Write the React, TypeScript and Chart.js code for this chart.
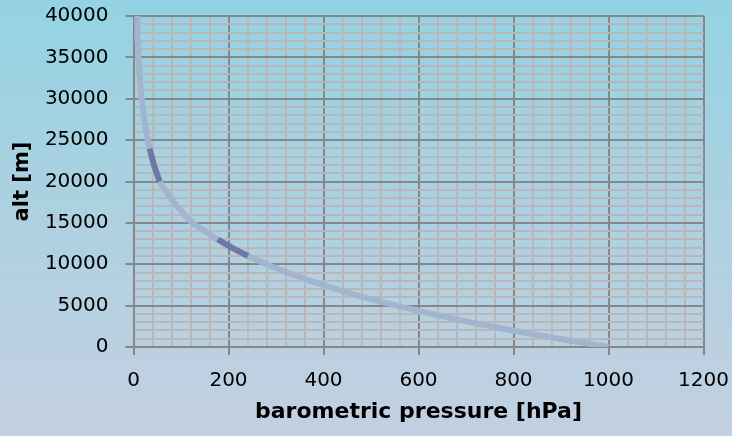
import { useEffect, useRef } from 'react';
import { Chart, registerables } from 'chart.js';

Chart.register(...registerables);

// altitude [m]
const altitudes = [
  0, 1000, 2000, 3000, 4000, 5000, 6000, 7000, 8000, 9000,
  10000, 11000, 12000, 13000, 14000, 15000, 16000, 17000, 18000, 19000,
  20000, 21000, 22000, 23000, 24000, 25000, 26000, 27000, 28000, 29000,
  30000, 31000, 32000, 33000, 34000, 35000, 36000, 37000, 38000, 39000, 40000,
];

// barometric pressure [hPa]
const pressures = [
  1000, 895, 798, 708, 627, 553, 486, 426, 372, 323,
  280, 241, 207, 177, 150, 124, 107, 92, 78, 66,
  55, 49, 43, 38.5, 34, 30, 27, 24, 21.5, 19.5,
  17.5, 15.8, 14.2, 12.8, 11.8, 11, 10.2, 9.4, 8.7, 8, 7.5,
];

const xTickLabels = [0, 200, 400, 600, 800, 1000, 1200];
const yTickLabels = [0, 5000, 10000, 15000, 20000, 25000, 30000, 35000, 40000];

// altitude bands where the darker line shows
const darkBands = [
  [20000, 24000],
  [11000, 13000],
];

const MAJOR = '#878787';
const MINOR = '#bab7b8';
const LIGHT_LINE = '#a2b5cf';
const DARK_LINE = '#6c78a5';
const FONT = '"DejaVu Sans", "Open Sans", sans-serif';

export default function App() {
  const ref = useRef<HTMLCanvasElement | null>(null);

  useEffect(() => {
    const canvas = ref.current;
    if (!canvas) return;
    const points = pressures.map((p, i) => ({ x: p, y: altitudes[i] }));
    const isMajorX = (v: number) => xTickLabels.some((t) => Math.abs(t - v) < 1e-6);
    const isMajorY = (v: number) => yTickLabels.some((t) => Math.abs(t - v) < 1e-6);

    const chart = new Chart(canvas, {
      type: 'scatter',
      data: {
        datasets: [
          {
            data: points,
            showLine: true,
            borderColor: LIGHT_LINE,
            borderWidth: 6,
            pointRadius: 0,
            pointHoverRadius: 0,
            tension: 0,
            borderJoinStyle: 'round',
            segment: {
              borderColor: (ctx: any) => {
                const y = ctx.p0.parsed.y;
                return darkBands.some(([a, b]) => y >= a && y < b) ? DARK_LINE : LIGHT_LINE;
              },
            },
          } as any,
        ],
      },
      options: {
        animation: false,
        responsive: false,
        devicePixelRatio: 1,
        layout: { padding: { top: 16, right: 28.5, left: 0, bottom: 0 } },
        plugins: { legend: { display: false }, tooltip: { enabled: false } },
        scales: {
          x: {
            type: 'linear',
            min: 0,
            max: 1200,
            afterFit: (scale: any) => {
              scale.height = 89;
              scale.paddingLeft = 0;
              scale.paddingRight = 0;
            },
            ticks: {
              stepSize: 40,
              autoSkip: false,
              maxRotation: 0,
              padding: 14,
              color: '#000',
              font: { family: FONT, size: 20 },
              callback: (v: any) => (isMajorX(Number(v)) ? String(v) : ''),
            },
            grid: {
              color: (ctx: any) => (isMajorX(ctx.tick.value) ? MAJOR : MINOR),
              lineWidth: 2,
              tickColor: (ctx: any) => (isMajorX(ctx.tick.value) ? MAJOR : 'rgba(0,0,0,0)'),
              tickLength: 8,
              tickWidth: 2,
            },
            border: { color: MAJOR, width: 2 },
            title: {
              display: true,
              text: 'barometric pressure [hPa]',
              color: '#000',
              font: { family: FONT, size: 22, weight: 'bold' },
              padding: { top: 0, bottom: 11 },
            },
          },
          y: {
            type: 'linear',
            min: 0,
            max: 40000,
            afterFit: (scale: any) => {
              scale.width = 133.5;
              scale.paddingTop = 0;
              scale.paddingBottom = 0;
            },
            ticks: {
              stepSize: 1000,
              autoSkip: false,
              padding: 17,
              color: '#000',
              font: { family: FONT, size: 20 },
              callback: (v: any) => (isMajorY(Number(v)) ? String(v) : ''),
            },
            grid: {
              color: (ctx: any) => (isMajorY(ctx.tick.value) ? MAJOR : MINOR),
              lineWidth: 2,
              tickColor: (ctx: any) => (isMajorY(ctx.tick.value) ? MAJOR : 'rgba(0,0,0,0)'),
              tickLength: 8,
              tickWidth: 2,
            },
            border: { color: MAJOR, width: 2 },
            title: {
              display: true,
              text: 'alt [m]',
              color: '#000',
              font: { family: FONT, size: 21, weight: 'bold' },
              padding: { top: 9.5, bottom: 0 },
            },
          },
        },
      },
    });
    return () => chart.destroy();
  }, []);

  return (
    <div
      style={{
        position: 'absolute',
        left: 0,
        top: 0,
        width: 732,
        height: 436,
        background: 'linear-gradient(to bottom, #93d3e3 0%, #abd1e1 45%, #c3d0e1 100%)',
      }}
    >
      <canvas ref={ref} width={732} height={436} style={{ display: 'block' }} />
    </div>
  );
}
